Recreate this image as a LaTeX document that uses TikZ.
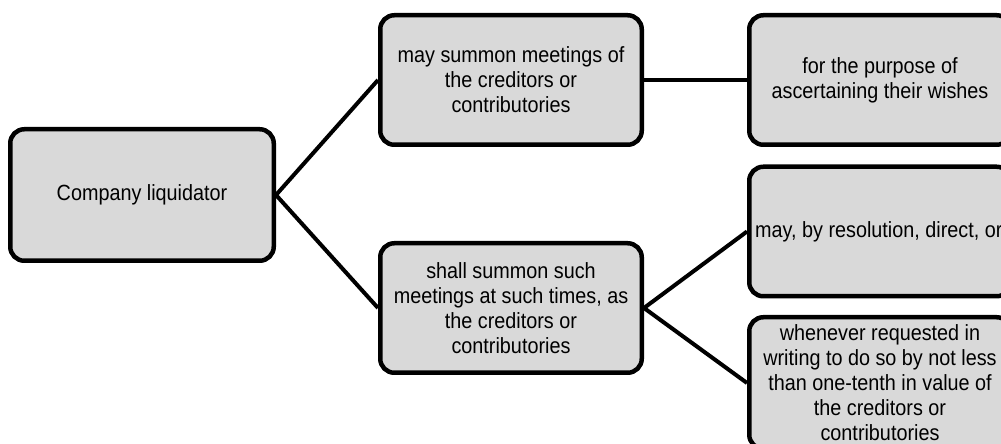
\documentclass[tikz,border=0pt]{standalone}
\usepackage{fontspec}
\setmainfont{Liberation Sans}[FakeStretch=0.9]
\begin{document}
\begin{tikzpicture}[x=1pt,y=1pt,
  box/.style={draw=black, line width=4.5pt, rounded corners=14pt, fill=boxgray,
    minimum width=261.5pt, minimum height=129.5pt, align=center, inner sep=0pt,
    font=\fontsize{22}{25}\selectfont},
  link/.style={draw=black, line width=4pt}]
\definecolor{boxgray}{HTML}{D9D9D9}
\useasboundingbox (0,0) rectangle (1001,444);
\clip (0,0) rectangle (1001,444);
\node[box, minimum width=263.5pt, minimum height=131.5pt] (A) at (142,249) {Company liquidator};
\node[box] (B) at (511,364) {may summon meetings of\\the creditors or\\contributories};
\node[box] (C) at (511,136) {shall summon such\\meetings at such times, as\\the creditors or\\contributories};
\node[box] (D) at (880,364) {for the purpose of\\ascertaining their wishes};
\node[box] (E) at (880,212.5) {};
\node[anchor=west, inner sep=0pt, font=\fontsize{22}{25}\selectfont] (Et) at ([xshift=8pt]E.west) {may, by resolution, direct, or};
\node[box, minimum height=131.5pt] (F) at (880,61) {whenever requested in\\writing to do so by not less\\than one-tenth in value of\\the creditors or\\contributories};
\draw[link] (A.east) -- (B.west);
\draw[link] (A.east) -- (C.west);
\draw[link] (B.east) -- (D.west);
\draw[link] (C.east) -- (E.west);
\draw[link] (C.east) -- (F.west);
\end{tikzpicture}
\end{document}
